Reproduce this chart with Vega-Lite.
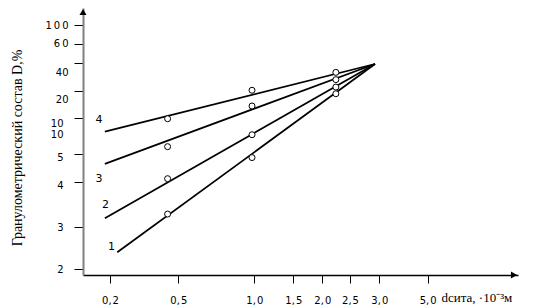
{
  "$schema": "https://vega.github.io/schema/vega-lite/v6.json",
  "autosize": {"type": "none"},
  "padding": {"left": 83, "top": 8, "right": 23, "bottom": 32},
  "width": 435,
  "height": 267,
  "background": "white",
  "view": {"stroke": null},
  "config": {"font": "DejaVu Sans"},
  "datasets": {
    "lines": [
      {"s": "1", "x": 0.232, "y": 2.405}, {"s": "1", "x": 2.927, "y": 39.1},
      {"s": "2", "x": 0.181, "y": 3.2}, {"s": "2", "x": 2.927, "y": 39.1},
      {"s": "3", "x": 0.181, "y": 4.65}, {"s": "3", "x": 2.927, "y": 39.1},
      {"s": "4", "x": 0.181, "y": 8.14}, {"s": "4", "x": 2.927, "y": 39.1}
    ],
    "points": [
      {"s": "4", "x": 0.453, "y": 9.94}, {"s": "4", "x": 0.985, "y": 20.3}, {"s": "4", "x": 2.245, "y": 33.1},
      {"s": "3", "x": 0.453, "y": 6.06}, {"s": "3", "x": 0.985, "y": 14.46}, {"s": "3", "x": 2.245, "y": 27.9},
      {"s": "2", "x": 0.453, "y": 4.11}, {"s": "2", "x": 0.985, "y": 7.72}, {"s": "2", "x": 2.245, "y": 22.6},
      {"s": "1", "x": 0.453, "y": 3.29}, {"s": "1", "x": 0.985, "y": 4.88}, {"s": "1", "x": 2.245, "y": 18.9}
    ],
    "labels": [
      {"s": "4", "x": 0.159, "y": 9.76},
      {"s": "3", "x": 0.159, "y": 4.1},
      {"s": "2", "x": 0.183, "y": 3.49},
      {"s": "1", "x": 0.207, "y": 2.52}
    ],
    "xarrow": [{"x": 8, "y": 1.8}],
    "yarrow": [{"x": 0.1, "y": 200}]
  },
  "encoding": {
    "x": {
      "field": "x", "type": "quantitative",
      "scale": {"domain": [0.1, 0.2, 0.5, 1, 1.5, 2, 2.5, 3, 5, 8], "range": [0, 27, 95.3, 171.3, 210.3, 239.3, 267, 296.3, 344.7, 435], "nice": false, "zero": false},
      "axis": {
        "values": [0.2, 0.5, 1, 1.5, 2, 2.5, 3, 5],
        "labelExpr": "replace(format(datum.value, '.1f'), '.', ',\u200a')",
        "grid": false,
        "domainColor": "#000000", "domainWidth": 1.5,
        "tickColor": "#000000", "tickSize": 8, "tickWidth": 1,
        "labelFont": "DejaVu Sans", "labelFontSize": 10, "labelColor": "#000000",
        "labelPadding": 12, "labelFlush": false, "labelOverlap": false,
        "title": "dсита, ·10⁻³м",
        "titleFont": "Liberation Serif", "titleFontSize": 13, "titleFontWeight": "normal", "titleColor": "#000000",
        "titleAlign": "left", "titleBaseline": "middle", "titleX": 358, "titleY": 22
      }
    },
    "y": {
      "field": "y", "type": "quantitative",
      "scale": {"domain": [1.8, 2, 3, 4, 5, 10, 20, 40, 60, 100, 200], "range": [267, 261.3, 219.3, 173.7, 146.3, 110.3, 82.7, 54.7, 35.7, 17, 0], "nice": false, "zero": false},
      "axis": {
        "values": [2, 3, 4, 5, 10, 20, 40, 60, 100],
        "labelExpr": "datum.value == 100 ? '1\u20090\u20090' : datum.value == 60 ? '6\u20090' : datum.value == 10 ? ['10', '10'] : datum.label",
        "grid": false,
        "domainColor": "#808080", "domainWidth": 2,
        "tickColor": "#000000", "tickSize": 9, "tickWidth": 1,
        "labelFont": "DejaVu Sans", "labelFontSize": 10, "labelColor": "#000000",
        "labelLineHeight": 11,
        "labelOverlap": false, "labelFlush": false,
        "labelOffset": {"condition": [
          {"test": "datum.value == 40", "value": 10},
          {"test": "datum.value == 20", "value": 9},
          {"test": "datum.value == 10", "value": 5.5},
          {"test": "datum.value == 5", "value": 3},
          {"test": "datum.value == 4", "value": 4}
        ], "value": 0},
        "labelPadding": {"condition": {"test": "datum.value >= 20", "value": 6}, "value": 11},
        "title": "Гранулометрический состав D,%",
        "titleFont": "Liberation Serif", "titleFontSize": 14, "titleFontWeight": "normal", "titleColor": "#000000",
        "titleAngle": -90, "titleAlign": "center", "titleBaseline": "middle", "titleX": -66, "titleY": 139.5
      }
    }
  },
  "layer": [
    {
      "data": {"name": "lines"},
      "mark": {"type": "line", "color": "#000000", "strokeWidth": 1.7},
      "encoding": {"detail": {"field": "s"}}
    },
    {
      "data": {"name": "points"},
      "mark": {"type": "point", "shape": "circle", "filled": true, "fill": "#ffffff", "stroke": "#000000", "strokeWidth": 1, "size": 36, "opacity": 1}
    },
    {
      "data": {"name": "labels"},
      "mark": {"type": "text", "font": "DejaVu Sans", "fontSize": 11, "color": "#000000", "align": "center", "baseline": "middle"},
      "encoding": {"text": {"field": "s"}}
    },
    {
      "data": {"name": "xarrow"},
      "mark": {"type": "point", "shape": "triangle-right", "filled": true, "color": "#000000", "size": 50, "opacity": 1, "xOffset": -4}
    },
    {
      "data": {"name": "yarrow"},
      "mark": {"type": "point", "shape": "triangle-up", "filled": true, "color": "#000000", "size": 50, "opacity": 1, "yOffset": 4}
    }
  ]
}
